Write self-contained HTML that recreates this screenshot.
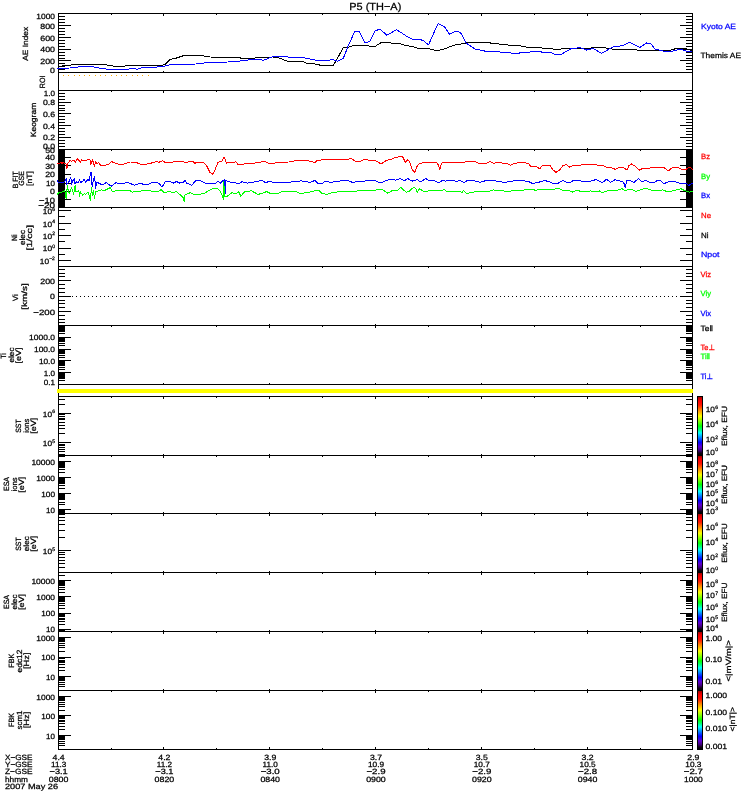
<!DOCTYPE html>
<html><head><meta charset="utf-8"><title>P5 (TH-A)</title>
<style>html,body{margin:0;padding:0;background:#fff;overflow:hidden}svg{display:block}text{font-family:"Liberation Sans",sans-serif}</style>
</head><body>
<svg width="750" height="800" viewBox="0 0 750 800" shape-rendering="crispEdges">
<rect width="750" height="800" fill="#fff"/>
<rect x="63" y="75" width="1" height="1" fill="#ffaa00"/>
<rect x="68" y="75" width="1" height="1" fill="#ffaa00"/>
<rect x="74" y="75" width="1" height="1" fill="#ffaa00"/>
<rect x="79" y="75" width="1" height="1" fill="#ffaa00"/>
<rect x="84" y="75" width="1" height="1" fill="#ffaa00"/>
<rect x="89" y="75" width="1" height="1" fill="#ffaa00"/>
<rect x="95" y="75" width="1" height="1" fill="#ffaa00"/>
<rect x="100" y="75" width="1" height="1" fill="#ffaa00"/>
<rect x="105" y="75" width="1" height="1" fill="#ffaa00"/>
<rect x="111" y="75" width="1" height="1" fill="#ffaa00"/>
<rect x="116" y="75" width="1" height="1" fill="#ffaa00"/>
<rect x="121" y="75" width="1" height="1" fill="#ffaa00"/>
<rect x="126" y="75" width="1" height="1" fill="#ffaa00"/>
<rect x="132" y="75" width="1" height="1" fill="#ffaa00"/>
<rect x="137" y="75" width="1" height="1" fill="#ffaa00"/>
<rect x="142" y="75" width="1" height="1" fill="#ffaa00"/>
<rect x="148" y="75" width="1" height="1" fill="#ffaa00"/>
<rect x="72" y="296" width="1" height="1" fill="#000"/>
<rect x="76" y="296" width="1" height="1" fill="#000"/>
<rect x="80" y="296" width="1" height="1" fill="#000"/>
<rect x="84" y="296" width="1" height="1" fill="#000"/>
<rect x="88" y="296" width="1" height="1" fill="#000"/>
<rect x="92" y="296" width="1" height="1" fill="#000"/>
<rect x="96" y="296" width="1" height="1" fill="#000"/>
<rect x="100" y="296" width="1" height="1" fill="#000"/>
<rect x="104" y="296" width="1" height="1" fill="#000"/>
<rect x="108" y="296" width="1" height="1" fill="#000"/>
<rect x="112" y="296" width="1" height="1" fill="#000"/>
<rect x="116" y="296" width="1" height="1" fill="#000"/>
<rect x="120" y="296" width="1" height="1" fill="#000"/>
<rect x="124" y="296" width="1" height="1" fill="#000"/>
<rect x="128" y="296" width="1" height="1" fill="#000"/>
<rect x="132" y="296" width="1" height="1" fill="#000"/>
<rect x="136" y="296" width="1" height="1" fill="#000"/>
<rect x="140" y="296" width="1" height="1" fill="#000"/>
<rect x="144" y="296" width="1" height="1" fill="#000"/>
<rect x="148" y="296" width="1" height="1" fill="#000"/>
<rect x="152" y="296" width="1" height="1" fill="#000"/>
<rect x="156" y="296" width="1" height="1" fill="#000"/>
<rect x="160" y="296" width="1" height="1" fill="#000"/>
<rect x="164" y="296" width="1" height="1" fill="#000"/>
<rect x="168" y="296" width="1" height="1" fill="#000"/>
<rect x="172" y="296" width="1" height="1" fill="#000"/>
<rect x="176" y="296" width="1" height="1" fill="#000"/>
<rect x="180" y="296" width="1" height="1" fill="#000"/>
<rect x="184" y="296" width="1" height="1" fill="#000"/>
<rect x="188" y="296" width="1" height="1" fill="#000"/>
<rect x="192" y="296" width="1" height="1" fill="#000"/>
<rect x="196" y="296" width="1" height="1" fill="#000"/>
<rect x="200" y="296" width="1" height="1" fill="#000"/>
<rect x="204" y="296" width="1" height="1" fill="#000"/>
<rect x="208" y="296" width="1" height="1" fill="#000"/>
<rect x="212" y="296" width="1" height="1" fill="#000"/>
<rect x="216" y="296" width="1" height="1" fill="#000"/>
<rect x="220" y="296" width="1" height="1" fill="#000"/>
<rect x="224" y="296" width="1" height="1" fill="#000"/>
<rect x="228" y="296" width="1" height="1" fill="#000"/>
<rect x="232" y="296" width="1" height="1" fill="#000"/>
<rect x="236" y="296" width="1" height="1" fill="#000"/>
<rect x="240" y="296" width="1" height="1" fill="#000"/>
<rect x="244" y="296" width="1" height="1" fill="#000"/>
<rect x="248" y="296" width="1" height="1" fill="#000"/>
<rect x="252" y="296" width="1" height="1" fill="#000"/>
<rect x="256" y="296" width="1" height="1" fill="#000"/>
<rect x="260" y="296" width="1" height="1" fill="#000"/>
<rect x="264" y="296" width="1" height="1" fill="#000"/>
<rect x="268" y="296" width="1" height="1" fill="#000"/>
<rect x="272" y="296" width="1" height="1" fill="#000"/>
<rect x="276" y="296" width="1" height="1" fill="#000"/>
<rect x="280" y="296" width="1" height="1" fill="#000"/>
<rect x="284" y="296" width="1" height="1" fill="#000"/>
<rect x="288" y="296" width="1" height="1" fill="#000"/>
<rect x="292" y="296" width="1" height="1" fill="#000"/>
<rect x="296" y="296" width="1" height="1" fill="#000"/>
<rect x="300" y="296" width="1" height="1" fill="#000"/>
<rect x="304" y="296" width="1" height="1" fill="#000"/>
<rect x="308" y="296" width="1" height="1" fill="#000"/>
<rect x="312" y="296" width="1" height="1" fill="#000"/>
<rect x="316" y="296" width="1" height="1" fill="#000"/>
<rect x="320" y="296" width="1" height="1" fill="#000"/>
<rect x="324" y="296" width="1" height="1" fill="#000"/>
<rect x="328" y="296" width="1" height="1" fill="#000"/>
<rect x="332" y="296" width="1" height="1" fill="#000"/>
<rect x="336" y="296" width="1" height="1" fill="#000"/>
<rect x="340" y="296" width="1" height="1" fill="#000"/>
<rect x="344" y="296" width="1" height="1" fill="#000"/>
<rect x="348" y="296" width="1" height="1" fill="#000"/>
<rect x="352" y="296" width="1" height="1" fill="#000"/>
<rect x="356" y="296" width="1" height="1" fill="#000"/>
<rect x="360" y="296" width="1" height="1" fill="#000"/>
<rect x="364" y="296" width="1" height="1" fill="#000"/>
<rect x="368" y="296" width="1" height="1" fill="#000"/>
<rect x="372" y="296" width="1" height="1" fill="#000"/>
<rect x="376" y="296" width="1" height="1" fill="#000"/>
<rect x="380" y="296" width="1" height="1" fill="#000"/>
<rect x="384" y="296" width="1" height="1" fill="#000"/>
<rect x="388" y="296" width="1" height="1" fill="#000"/>
<rect x="392" y="296" width="1" height="1" fill="#000"/>
<rect x="396" y="296" width="1" height="1" fill="#000"/>
<rect x="400" y="296" width="1" height="1" fill="#000"/>
<rect x="404" y="296" width="1" height="1" fill="#000"/>
<rect x="408" y="296" width="1" height="1" fill="#000"/>
<rect x="412" y="296" width="1" height="1" fill="#000"/>
<rect x="416" y="296" width="1" height="1" fill="#000"/>
<rect x="420" y="296" width="1" height="1" fill="#000"/>
<rect x="424" y="296" width="1" height="1" fill="#000"/>
<rect x="428" y="296" width="1" height="1" fill="#000"/>
<rect x="432" y="296" width="1" height="1" fill="#000"/>
<rect x="436" y="296" width="1" height="1" fill="#000"/>
<rect x="440" y="296" width="1" height="1" fill="#000"/>
<rect x="444" y="296" width="1" height="1" fill="#000"/>
<rect x="448" y="296" width="1" height="1" fill="#000"/>
<rect x="452" y="296" width="1" height="1" fill="#000"/>
<rect x="456" y="296" width="1" height="1" fill="#000"/>
<rect x="460" y="296" width="1" height="1" fill="#000"/>
<rect x="464" y="296" width="1" height="1" fill="#000"/>
<rect x="468" y="296" width="1" height="1" fill="#000"/>
<rect x="472" y="296" width="1" height="1" fill="#000"/>
<rect x="476" y="296" width="1" height="1" fill="#000"/>
<rect x="480" y="296" width="1" height="1" fill="#000"/>
<rect x="484" y="296" width="1" height="1" fill="#000"/>
<rect x="488" y="296" width="1" height="1" fill="#000"/>
<rect x="492" y="296" width="1" height="1" fill="#000"/>
<rect x="496" y="296" width="1" height="1" fill="#000"/>
<rect x="500" y="296" width="1" height="1" fill="#000"/>
<rect x="504" y="296" width="1" height="1" fill="#000"/>
<rect x="508" y="296" width="1" height="1" fill="#000"/>
<rect x="512" y="296" width="1" height="1" fill="#000"/>
<rect x="516" y="296" width="1" height="1" fill="#000"/>
<rect x="520" y="296" width="1" height="1" fill="#000"/>
<rect x="524" y="296" width="1" height="1" fill="#000"/>
<rect x="528" y="296" width="1" height="1" fill="#000"/>
<rect x="532" y="296" width="1" height="1" fill="#000"/>
<rect x="536" y="296" width="1" height="1" fill="#000"/>
<rect x="540" y="296" width="1" height="1" fill="#000"/>
<rect x="544" y="296" width="1" height="1" fill="#000"/>
<rect x="548" y="296" width="1" height="1" fill="#000"/>
<rect x="552" y="296" width="1" height="1" fill="#000"/>
<rect x="556" y="296" width="1" height="1" fill="#000"/>
<rect x="560" y="296" width="1" height="1" fill="#000"/>
<rect x="564" y="296" width="1" height="1" fill="#000"/>
<rect x="568" y="296" width="1" height="1" fill="#000"/>
<rect x="572" y="296" width="1" height="1" fill="#000"/>
<rect x="576" y="296" width="1" height="1" fill="#000"/>
<rect x="580" y="296" width="1" height="1" fill="#000"/>
<rect x="584" y="296" width="1" height="1" fill="#000"/>
<rect x="588" y="296" width="1" height="1" fill="#000"/>
<rect x="592" y="296" width="1" height="1" fill="#000"/>
<rect x="596" y="296" width="1" height="1" fill="#000"/>
<rect x="600" y="296" width="1" height="1" fill="#000"/>
<rect x="604" y="296" width="1" height="1" fill="#000"/>
<rect x="608" y="296" width="1" height="1" fill="#000"/>
<rect x="612" y="296" width="1" height="1" fill="#000"/>
<rect x="616" y="296" width="1" height="1" fill="#000"/>
<rect x="620" y="296" width="1" height="1" fill="#000"/>
<rect x="624" y="296" width="1" height="1" fill="#000"/>
<rect x="628" y="296" width="1" height="1" fill="#000"/>
<rect x="632" y="296" width="1" height="1" fill="#000"/>
<rect x="636" y="296" width="1" height="1" fill="#000"/>
<rect x="640" y="296" width="1" height="1" fill="#000"/>
<rect x="644" y="296" width="1" height="1" fill="#000"/>
<rect x="648" y="296" width="1" height="1" fill="#000"/>
<rect x="652" y="296" width="1" height="1" fill="#000"/>
<rect x="656" y="296" width="1" height="1" fill="#000"/>
<rect x="660" y="296" width="1" height="1" fill="#000"/>
<rect x="664" y="296" width="1" height="1" fill="#000"/>
<rect x="668" y="296" width="1" height="1" fill="#000"/>
<rect x="672" y="296" width="1" height="1" fill="#000"/>
<rect x="676" y="296" width="1" height="1" fill="#000"/>
<rect x="680" y="296" width="1" height="1" fill="#000"/>
<rect x="684" y="296" width="1" height="1" fill="#000"/>
<rect x="688" y="296" width="1" height="1" fill="#000"/>
<g fill="#000">
<rect x="58" y="13" width="635" height="1" fill="#000"/>
<rect x="58" y="72" width="635" height="1" fill="#000"/>
<rect x="58" y="90" width="635" height="1" fill="#000"/>
<rect x="58" y="149" width="635" height="1" fill="#000"/>
<rect x="58" y="207" width="635" height="1" fill="#000"/>
<rect x="58" y="266" width="635" height="1" fill="#000"/>
<rect x="58" y="325" width="635" height="1" fill="#000"/>
<rect x="58" y="384" width="635" height="1" fill="#000"/>
<rect x="58" y="396" width="635" height="1" fill="#000"/>
<rect x="58" y="455" width="635" height="1" fill="#000"/>
<rect x="58" y="513" width="635" height="1" fill="#000"/>
<rect x="58" y="572" width="635" height="1" fill="#000"/>
<rect x="58" y="631" width="635" height="1" fill="#000"/>
<rect x="58" y="690" width="635" height="1" fill="#000"/>
<rect x="58" y="749" width="635" height="1" fill="#000"/>
<rect x="58" y="13" width="1" height="737" fill="#000"/>
<rect x="692" y="13" width="1" height="737" fill="#000"/>
<rect x="58" y="14" width="1" height="2"/>
<rect x="58" y="71" width="1" height="1"/>
<rect x="58" y="91" width="1" height="2"/>
<rect x="58" y="148" width="1" height="1"/>
<rect x="58" y="150" width="1" height="2"/>
<rect x="58" y="206" width="1" height="1"/>
<rect x="58" y="208" width="1" height="2"/>
<rect x="58" y="265" width="1" height="1"/>
<rect x="58" y="267" width="1" height="2"/>
<rect x="58" y="324" width="1" height="1"/>
<rect x="58" y="326" width="1" height="2"/>
<rect x="58" y="383" width="1" height="1"/>
<rect x="58" y="397" width="1" height="2"/>
<rect x="58" y="454" width="1" height="1"/>
<rect x="58" y="456" width="1" height="2"/>
<rect x="58" y="512" width="1" height="1"/>
<rect x="58" y="514" width="1" height="2"/>
<rect x="58" y="571" width="1" height="1"/>
<rect x="58" y="573" width="1" height="2"/>
<rect x="58" y="630" width="1" height="1"/>
<rect x="58" y="632" width="1" height="2"/>
<rect x="58" y="689" width="1" height="1"/>
<rect x="58" y="691" width="1" height="2"/>
<rect x="58" y="747" width="1" height="2"/>
<rect x="111" y="14" width="1" height="1"/>
<rect x="111" y="91" width="1" height="1"/>
<rect x="111" y="150" width="1" height="1"/>
<rect x="111" y="208" width="1" height="1"/>
<rect x="111" y="267" width="1" height="1"/>
<rect x="111" y="326" width="1" height="1"/>
<rect x="111" y="397" width="1" height="1"/>
<rect x="111" y="456" width="1" height="1"/>
<rect x="111" y="514" width="1" height="1"/>
<rect x="111" y="573" width="1" height="1"/>
<rect x="111" y="632" width="1" height="1"/>
<rect x="111" y="691" width="1" height="1"/>
<rect x="111" y="748" width="1" height="1"/>
<rect x="163" y="14" width="1" height="2"/>
<rect x="163" y="71" width="1" height="1"/>
<rect x="163" y="91" width="1" height="2"/>
<rect x="163" y="148" width="1" height="1"/>
<rect x="163" y="150" width="1" height="2"/>
<rect x="163" y="206" width="1" height="1"/>
<rect x="163" y="208" width="1" height="2"/>
<rect x="163" y="265" width="1" height="1"/>
<rect x="163" y="267" width="1" height="2"/>
<rect x="163" y="324" width="1" height="1"/>
<rect x="163" y="326" width="1" height="2"/>
<rect x="163" y="383" width="1" height="1"/>
<rect x="163" y="397" width="1" height="2"/>
<rect x="163" y="454" width="1" height="1"/>
<rect x="163" y="456" width="1" height="2"/>
<rect x="163" y="512" width="1" height="1"/>
<rect x="163" y="514" width="1" height="2"/>
<rect x="163" y="571" width="1" height="1"/>
<rect x="163" y="573" width="1" height="2"/>
<rect x="163" y="630" width="1" height="1"/>
<rect x="163" y="632" width="1" height="2"/>
<rect x="163" y="689" width="1" height="1"/>
<rect x="163" y="691" width="1" height="2"/>
<rect x="163" y="747" width="1" height="2"/>
<rect x="216" y="14" width="1" height="1"/>
<rect x="216" y="91" width="1" height="1"/>
<rect x="216" y="150" width="1" height="1"/>
<rect x="216" y="208" width="1" height="1"/>
<rect x="216" y="267" width="1" height="1"/>
<rect x="216" y="326" width="1" height="1"/>
<rect x="216" y="397" width="1" height="1"/>
<rect x="216" y="456" width="1" height="1"/>
<rect x="216" y="514" width="1" height="1"/>
<rect x="216" y="573" width="1" height="1"/>
<rect x="216" y="632" width="1" height="1"/>
<rect x="216" y="691" width="1" height="1"/>
<rect x="216" y="748" width="1" height="1"/>
<rect x="269" y="14" width="1" height="2"/>
<rect x="269" y="71" width="1" height="1"/>
<rect x="269" y="91" width="1" height="2"/>
<rect x="269" y="148" width="1" height="1"/>
<rect x="269" y="150" width="1" height="2"/>
<rect x="269" y="206" width="1" height="1"/>
<rect x="269" y="208" width="1" height="2"/>
<rect x="269" y="265" width="1" height="1"/>
<rect x="269" y="267" width="1" height="2"/>
<rect x="269" y="324" width="1" height="1"/>
<rect x="269" y="326" width="1" height="2"/>
<rect x="269" y="383" width="1" height="1"/>
<rect x="269" y="397" width="1" height="2"/>
<rect x="269" y="454" width="1" height="1"/>
<rect x="269" y="456" width="1" height="2"/>
<rect x="269" y="512" width="1" height="1"/>
<rect x="269" y="514" width="1" height="2"/>
<rect x="269" y="571" width="1" height="1"/>
<rect x="269" y="573" width="1" height="2"/>
<rect x="269" y="630" width="1" height="1"/>
<rect x="269" y="632" width="1" height="2"/>
<rect x="269" y="689" width="1" height="1"/>
<rect x="269" y="691" width="1" height="2"/>
<rect x="269" y="747" width="1" height="2"/>
<rect x="322" y="14" width="1" height="1"/>
<rect x="322" y="91" width="1" height="1"/>
<rect x="322" y="150" width="1" height="1"/>
<rect x="322" y="208" width="1" height="1"/>
<rect x="322" y="267" width="1" height="1"/>
<rect x="322" y="326" width="1" height="1"/>
<rect x="322" y="397" width="1" height="1"/>
<rect x="322" y="456" width="1" height="1"/>
<rect x="322" y="514" width="1" height="1"/>
<rect x="322" y="573" width="1" height="1"/>
<rect x="322" y="632" width="1" height="1"/>
<rect x="322" y="691" width="1" height="1"/>
<rect x="322" y="748" width="1" height="1"/>
<rect x="375" y="14" width="1" height="2"/>
<rect x="375" y="71" width="1" height="1"/>
<rect x="375" y="91" width="1" height="2"/>
<rect x="375" y="148" width="1" height="1"/>
<rect x="375" y="150" width="1" height="2"/>
<rect x="375" y="206" width="1" height="1"/>
<rect x="375" y="208" width="1" height="2"/>
<rect x="375" y="265" width="1" height="1"/>
<rect x="375" y="267" width="1" height="2"/>
<rect x="375" y="324" width="1" height="1"/>
<rect x="375" y="326" width="1" height="2"/>
<rect x="375" y="383" width="1" height="1"/>
<rect x="375" y="397" width="1" height="2"/>
<rect x="375" y="454" width="1" height="1"/>
<rect x="375" y="456" width="1" height="2"/>
<rect x="375" y="512" width="1" height="1"/>
<rect x="375" y="514" width="1" height="2"/>
<rect x="375" y="571" width="1" height="1"/>
<rect x="375" y="573" width="1" height="2"/>
<rect x="375" y="630" width="1" height="1"/>
<rect x="375" y="632" width="1" height="2"/>
<rect x="375" y="689" width="1" height="1"/>
<rect x="375" y="691" width="1" height="2"/>
<rect x="375" y="747" width="1" height="2"/>
<rect x="428" y="14" width="1" height="1"/>
<rect x="428" y="91" width="1" height="1"/>
<rect x="428" y="150" width="1" height="1"/>
<rect x="428" y="208" width="1" height="1"/>
<rect x="428" y="267" width="1" height="1"/>
<rect x="428" y="326" width="1" height="1"/>
<rect x="428" y="397" width="1" height="1"/>
<rect x="428" y="456" width="1" height="1"/>
<rect x="428" y="514" width="1" height="1"/>
<rect x="428" y="573" width="1" height="1"/>
<rect x="428" y="632" width="1" height="1"/>
<rect x="428" y="691" width="1" height="1"/>
<rect x="428" y="748" width="1" height="1"/>
<rect x="481" y="14" width="1" height="2"/>
<rect x="481" y="71" width="1" height="1"/>
<rect x="481" y="91" width="1" height="2"/>
<rect x="481" y="148" width="1" height="1"/>
<rect x="481" y="150" width="1" height="2"/>
<rect x="481" y="206" width="1" height="1"/>
<rect x="481" y="208" width="1" height="2"/>
<rect x="481" y="265" width="1" height="1"/>
<rect x="481" y="267" width="1" height="2"/>
<rect x="481" y="324" width="1" height="1"/>
<rect x="481" y="326" width="1" height="2"/>
<rect x="481" y="383" width="1" height="1"/>
<rect x="481" y="397" width="1" height="2"/>
<rect x="481" y="454" width="1" height="1"/>
<rect x="481" y="456" width="1" height="2"/>
<rect x="481" y="512" width="1" height="1"/>
<rect x="481" y="514" width="1" height="2"/>
<rect x="481" y="571" width="1" height="1"/>
<rect x="481" y="573" width="1" height="2"/>
<rect x="481" y="630" width="1" height="1"/>
<rect x="481" y="632" width="1" height="2"/>
<rect x="481" y="689" width="1" height="1"/>
<rect x="481" y="691" width="1" height="2"/>
<rect x="481" y="747" width="1" height="2"/>
<rect x="534" y="14" width="1" height="1"/>
<rect x="534" y="91" width="1" height="1"/>
<rect x="534" y="150" width="1" height="1"/>
<rect x="534" y="208" width="1" height="1"/>
<rect x="534" y="267" width="1" height="1"/>
<rect x="534" y="326" width="1" height="1"/>
<rect x="534" y="397" width="1" height="1"/>
<rect x="534" y="456" width="1" height="1"/>
<rect x="534" y="514" width="1" height="1"/>
<rect x="534" y="573" width="1" height="1"/>
<rect x="534" y="632" width="1" height="1"/>
<rect x="534" y="691" width="1" height="1"/>
<rect x="534" y="748" width="1" height="1"/>
<rect x="587" y="14" width="1" height="2"/>
<rect x="587" y="71" width="1" height="1"/>
<rect x="587" y="91" width="1" height="2"/>
<rect x="587" y="148" width="1" height="1"/>
<rect x="587" y="150" width="1" height="2"/>
<rect x="587" y="206" width="1" height="1"/>
<rect x="587" y="208" width="1" height="2"/>
<rect x="587" y="265" width="1" height="1"/>
<rect x="587" y="267" width="1" height="2"/>
<rect x="587" y="324" width="1" height="1"/>
<rect x="587" y="326" width="1" height="2"/>
<rect x="587" y="383" width="1" height="1"/>
<rect x="587" y="397" width="1" height="2"/>
<rect x="587" y="454" width="1" height="1"/>
<rect x="587" y="456" width="1" height="2"/>
<rect x="587" y="512" width="1" height="1"/>
<rect x="587" y="514" width="1" height="2"/>
<rect x="587" y="571" width="1" height="1"/>
<rect x="587" y="573" width="1" height="2"/>
<rect x="587" y="630" width="1" height="1"/>
<rect x="587" y="632" width="1" height="2"/>
<rect x="587" y="689" width="1" height="1"/>
<rect x="587" y="691" width="1" height="2"/>
<rect x="587" y="747" width="1" height="2"/>
<rect x="640" y="14" width="1" height="1"/>
<rect x="640" y="91" width="1" height="1"/>
<rect x="640" y="150" width="1" height="1"/>
<rect x="640" y="208" width="1" height="1"/>
<rect x="640" y="267" width="1" height="1"/>
<rect x="640" y="326" width="1" height="1"/>
<rect x="640" y="397" width="1" height="1"/>
<rect x="640" y="456" width="1" height="1"/>
<rect x="640" y="514" width="1" height="1"/>
<rect x="640" y="573" width="1" height="1"/>
<rect x="640" y="632" width="1" height="1"/>
<rect x="640" y="691" width="1" height="1"/>
<rect x="640" y="748" width="1" height="1"/>
<rect x="692" y="14" width="1" height="2"/>
<rect x="692" y="71" width="1" height="1"/>
<rect x="692" y="91" width="1" height="2"/>
<rect x="692" y="148" width="1" height="1"/>
<rect x="692" y="150" width="1" height="2"/>
<rect x="692" y="206" width="1" height="1"/>
<rect x="692" y="208" width="1" height="2"/>
<rect x="692" y="265" width="1" height="1"/>
<rect x="692" y="267" width="1" height="2"/>
<rect x="692" y="324" width="1" height="1"/>
<rect x="692" y="326" width="1" height="2"/>
<rect x="692" y="383" width="1" height="1"/>
<rect x="692" y="397" width="1" height="2"/>
<rect x="692" y="454" width="1" height="1"/>
<rect x="692" y="456" width="1" height="2"/>
<rect x="692" y="512" width="1" height="1"/>
<rect x="692" y="514" width="1" height="2"/>
<rect x="692" y="571" width="1" height="1"/>
<rect x="692" y="573" width="1" height="2"/>
<rect x="692" y="630" width="1" height="1"/>
<rect x="692" y="632" width="1" height="2"/>
<rect x="692" y="689" width="1" height="1"/>
<rect x="692" y="691" width="1" height="2"/>
<rect x="692" y="747" width="1" height="2"/>
<rect x="58" y="13" width="13" height="1"/>
<rect x="680" y="13" width="13" height="1"/>
<rect x="58" y="25" width="13" height="1"/>
<rect x="680" y="25" width="13" height="1"/>
<rect x="58" y="37" width="13" height="1"/>
<rect x="680" y="37" width="13" height="1"/>
<rect x="58" y="49" width="13" height="1"/>
<rect x="680" y="49" width="13" height="1"/>
<rect x="58" y="60" width="13" height="1"/>
<rect x="680" y="60" width="13" height="1"/>
<rect x="58" y="72" width="13" height="1"/>
<rect x="680" y="72" width="13" height="1"/>
<rect x="58" y="16" width="7" height="1"/>
<rect x="686" y="16" width="7" height="1"/>
<rect x="58" y="19" width="7" height="1"/>
<rect x="686" y="19" width="7" height="1"/>
<rect x="58" y="22" width="7" height="1"/>
<rect x="686" y="22" width="7" height="1"/>
<rect x="58" y="28" width="7" height="1"/>
<rect x="686" y="28" width="7" height="1"/>
<rect x="58" y="31" width="7" height="1"/>
<rect x="686" y="31" width="7" height="1"/>
<rect x="58" y="34" width="7" height="1"/>
<rect x="686" y="34" width="7" height="1"/>
<rect x="58" y="40" width="7" height="1"/>
<rect x="686" y="40" width="7" height="1"/>
<rect x="58" y="43" width="7" height="1"/>
<rect x="686" y="43" width="7" height="1"/>
<rect x="58" y="46" width="7" height="1"/>
<rect x="686" y="46" width="7" height="1"/>
<rect x="58" y="52" width="7" height="1"/>
<rect x="686" y="52" width="7" height="1"/>
<rect x="58" y="55" width="7" height="1"/>
<rect x="686" y="55" width="7" height="1"/>
<rect x="58" y="58" width="7" height="1"/>
<rect x="686" y="58" width="7" height="1"/>
<rect x="58" y="63" width="7" height="1"/>
<rect x="686" y="63" width="7" height="1"/>
<rect x="58" y="66" width="7" height="1"/>
<rect x="686" y="66" width="7" height="1"/>
<rect x="58" y="69" width="7" height="1"/>
<rect x="686" y="69" width="7" height="1"/>
<rect x="58" y="90" width="13" height="1"/>
<rect x="680" y="90" width="13" height="1"/>
<rect x="58" y="102" width="13" height="1"/>
<rect x="680" y="102" width="13" height="1"/>
<rect x="58" y="113" width="13" height="1"/>
<rect x="680" y="113" width="13" height="1"/>
<rect x="58" y="125" width="13" height="1"/>
<rect x="680" y="125" width="13" height="1"/>
<rect x="58" y="137" width="13" height="1"/>
<rect x="680" y="137" width="13" height="1"/>
<rect x="58" y="149" width="13" height="1"/>
<rect x="680" y="149" width="13" height="1"/>
<rect x="58" y="93" width="7" height="1"/>
<rect x="686" y="93" width="7" height="1"/>
<rect x="58" y="96" width="7" height="1"/>
<rect x="686" y="96" width="7" height="1"/>
<rect x="58" y="99" width="7" height="1"/>
<rect x="686" y="99" width="7" height="1"/>
<rect x="58" y="105" width="7" height="1"/>
<rect x="686" y="105" width="7" height="1"/>
<rect x="58" y="108" width="7" height="1"/>
<rect x="686" y="108" width="7" height="1"/>
<rect x="58" y="110" width="7" height="1"/>
<rect x="686" y="110" width="7" height="1"/>
<rect x="58" y="116" width="7" height="1"/>
<rect x="686" y="116" width="7" height="1"/>
<rect x="58" y="119" width="7" height="1"/>
<rect x="686" y="119" width="7" height="1"/>
<rect x="58" y="122" width="7" height="1"/>
<rect x="686" y="122" width="7" height="1"/>
<rect x="58" y="128" width="7" height="1"/>
<rect x="686" y="128" width="7" height="1"/>
<rect x="58" y="131" width="7" height="1"/>
<rect x="686" y="131" width="7" height="1"/>
<rect x="58" y="134" width="7" height="1"/>
<rect x="686" y="134" width="7" height="1"/>
<rect x="58" y="140" width="7" height="1"/>
<rect x="686" y="140" width="7" height="1"/>
<rect x="58" y="143" width="7" height="1"/>
<rect x="686" y="143" width="7" height="1"/>
<rect x="58" y="146" width="7" height="1"/>
<rect x="686" y="146" width="7" height="1"/>
<rect x="58" y="149" width="7" height="59"/>
<rect x="686" y="149" width="7" height="59"/>
<rect x="58" y="157" width="13" height="1"/>
<rect x="680" y="157" width="13" height="1"/>
<rect x="58" y="165" width="13" height="1"/>
<rect x="680" y="165" width="13" height="1"/>
<rect x="58" y="174" width="13" height="1"/>
<rect x="680" y="174" width="13" height="1"/>
<rect x="58" y="183" width="13" height="1"/>
<rect x="680" y="183" width="13" height="1"/>
<rect x="58" y="191" width="13" height="1"/>
<rect x="680" y="191" width="13" height="1"/>
<rect x="58" y="199" width="13" height="1"/>
<rect x="680" y="199" width="13" height="1"/>
<rect x="58" y="210" width="13" height="1"/>
<rect x="680" y="210" width="13" height="1"/>
<rect x="58" y="223" width="13" height="1"/>
<rect x="680" y="223" width="13" height="1"/>
<rect x="58" y="235" width="13" height="1"/>
<rect x="680" y="235" width="13" height="1"/>
<rect x="58" y="248" width="13" height="1"/>
<rect x="680" y="248" width="13" height="1"/>
<rect x="58" y="260" width="13" height="1"/>
<rect x="680" y="260" width="13" height="1"/>
<rect x="58" y="216" width="7" height="1"/>
<rect x="686" y="216" width="7" height="1"/>
<rect x="58" y="229" width="7" height="1"/>
<rect x="686" y="229" width="7" height="1"/>
<rect x="58" y="241" width="7" height="1"/>
<rect x="686" y="241" width="7" height="1"/>
<rect x="58" y="254" width="7" height="1"/>
<rect x="686" y="254" width="7" height="1"/>
<rect x="58" y="280" width="13" height="1"/>
<rect x="680" y="280" width="13" height="1"/>
<rect x="58" y="296" width="13" height="1"/>
<rect x="680" y="296" width="13" height="1"/>
<rect x="58" y="311" width="13" height="1"/>
<rect x="680" y="311" width="13" height="1"/>
<rect x="58" y="269" width="7" height="1"/>
<rect x="686" y="269" width="7" height="1"/>
<rect x="58" y="273" width="7" height="1"/>
<rect x="686" y="273" width="7" height="1"/>
<rect x="58" y="276" width="7" height="1"/>
<rect x="686" y="276" width="7" height="1"/>
<rect x="58" y="284" width="7" height="1"/>
<rect x="686" y="284" width="7" height="1"/>
<rect x="58" y="288" width="7" height="1"/>
<rect x="686" y="288" width="7" height="1"/>
<rect x="58" y="292" width="7" height="1"/>
<rect x="686" y="292" width="7" height="1"/>
<rect x="58" y="300" width="7" height="1"/>
<rect x="686" y="300" width="7" height="1"/>
<rect x="58" y="303" width="7" height="1"/>
<rect x="686" y="303" width="7" height="1"/>
<rect x="58" y="307" width="7" height="1"/>
<rect x="686" y="307" width="7" height="1"/>
<rect x="58" y="315" width="7" height="1"/>
<rect x="686" y="315" width="7" height="1"/>
<rect x="58" y="319" width="7" height="1"/>
<rect x="686" y="319" width="7" height="1"/>
<rect x="58" y="322" width="7" height="1"/>
<rect x="686" y="322" width="7" height="1"/>
<rect x="58" y="384" width="7" height="1"/>
<rect x="686" y="384" width="7" height="1"/>
<rect x="58" y="380" width="7" height="1"/>
<rect x="686" y="380" width="7" height="1"/>
<rect x="58" y="378" width="7" height="1"/>
<rect x="686" y="378" width="7" height="1"/>
<rect x="58" y="377" width="7" height="1"/>
<rect x="686" y="377" width="7" height="1"/>
<rect x="58" y="376" width="7" height="1"/>
<rect x="686" y="376" width="7" height="1"/>
<rect x="58" y="375" width="7" height="1"/>
<rect x="686" y="375" width="7" height="1"/>
<rect x="58" y="374" width="7" height="1"/>
<rect x="686" y="374" width="7" height="1"/>
<rect x="58" y="373" width="7" height="1"/>
<rect x="686" y="373" width="7" height="1"/>
<rect x="58" y="373" width="7" height="1"/>
<rect x="686" y="373" width="7" height="1"/>
<rect x="58" y="369" width="7" height="1"/>
<rect x="686" y="369" width="7" height="1"/>
<rect x="58" y="367" width="7" height="1"/>
<rect x="686" y="367" width="7" height="1"/>
<rect x="58" y="365" width="7" height="1"/>
<rect x="686" y="365" width="7" height="1"/>
<rect x="58" y="364" width="7" height="1"/>
<rect x="686" y="364" width="7" height="1"/>
<rect x="58" y="363" width="7" height="1"/>
<rect x="686" y="363" width="7" height="1"/>
<rect x="58" y="362" width="7" height="1"/>
<rect x="686" y="362" width="7" height="1"/>
<rect x="58" y="361" width="7" height="1"/>
<rect x="686" y="361" width="7" height="1"/>
<rect x="58" y="361" width="7" height="1"/>
<rect x="686" y="361" width="7" height="1"/>
<rect x="58" y="357" width="7" height="1"/>
<rect x="686" y="357" width="7" height="1"/>
<rect x="58" y="355" width="7" height="1"/>
<rect x="686" y="355" width="7" height="1"/>
<rect x="58" y="353" width="7" height="1"/>
<rect x="686" y="353" width="7" height="1"/>
<rect x="58" y="352" width="7" height="1"/>
<rect x="686" y="352" width="7" height="1"/>
<rect x="58" y="351" width="7" height="1"/>
<rect x="686" y="351" width="7" height="1"/>
<rect x="58" y="350" width="7" height="1"/>
<rect x="686" y="350" width="7" height="1"/>
<rect x="58" y="350" width="7" height="1"/>
<rect x="686" y="350" width="7" height="1"/>
<rect x="58" y="349" width="7" height="1"/>
<rect x="686" y="349" width="7" height="1"/>
<rect x="58" y="345" width="7" height="1"/>
<rect x="686" y="345" width="7" height="1"/>
<rect x="58" y="343" width="7" height="1"/>
<rect x="686" y="343" width="7" height="1"/>
<rect x="58" y="341" width="7" height="1"/>
<rect x="686" y="341" width="7" height="1"/>
<rect x="58" y="340" width="7" height="1"/>
<rect x="686" y="340" width="7" height="1"/>
<rect x="58" y="339" width="7" height="1"/>
<rect x="686" y="339" width="7" height="1"/>
<rect x="58" y="339" width="7" height="1"/>
<rect x="686" y="339" width="7" height="1"/>
<rect x="58" y="338" width="7" height="1"/>
<rect x="686" y="338" width="7" height="1"/>
<rect x="58" y="337" width="7" height="1"/>
<rect x="686" y="337" width="7" height="1"/>
<rect x="58" y="333" width="7" height="1"/>
<rect x="686" y="333" width="7" height="1"/>
<rect x="58" y="331" width="7" height="1"/>
<rect x="686" y="331" width="7" height="1"/>
<rect x="58" y="330" width="7" height="1"/>
<rect x="686" y="330" width="7" height="1"/>
<rect x="58" y="329" width="7" height="1"/>
<rect x="686" y="329" width="7" height="1"/>
<rect x="58" y="328" width="7" height="1"/>
<rect x="686" y="328" width="7" height="1"/>
<rect x="58" y="327" width="7" height="1"/>
<rect x="686" y="327" width="7" height="1"/>
<rect x="58" y="326" width="7" height="1"/>
<rect x="686" y="326" width="7" height="1"/>
<rect x="58" y="326" width="7" height="1"/>
<rect x="686" y="326" width="7" height="1"/>
<rect x="58" y="384" width="13" height="1"/>
<rect x="680" y="384" width="13" height="1"/>
<rect x="58" y="372" width="13" height="1"/>
<rect x="680" y="372" width="13" height="1"/>
<rect x="58" y="360" width="13" height="1"/>
<rect x="680" y="360" width="13" height="1"/>
<rect x="58" y="349" width="13" height="1"/>
<rect x="680" y="349" width="13" height="1"/>
<rect x="58" y="337" width="13" height="1"/>
<rect x="680" y="337" width="13" height="1"/>
<rect x="58" y="325" width="13" height="1"/>
<rect x="680" y="325" width="13" height="1"/>
<rect x="58" y="454" width="7" height="1"/>
<rect x="686" y="454" width="7" height="1"/>
<rect x="58" y="451" width="7" height="1"/>
<rect x="686" y="451" width="7" height="1"/>
<rect x="58" y="449" width="7" height="1"/>
<rect x="686" y="449" width="7" height="1"/>
<rect x="58" y="447" width="7" height="1"/>
<rect x="686" y="447" width="7" height="1"/>
<rect x="58" y="445" width="7" height="1"/>
<rect x="686" y="445" width="7" height="1"/>
<rect x="58" y="444" width="7" height="1"/>
<rect x="686" y="444" width="7" height="1"/>
<rect x="58" y="433" width="7" height="1"/>
<rect x="686" y="433" width="7" height="1"/>
<rect x="58" y="428" width="7" height="1"/>
<rect x="686" y="428" width="7" height="1"/>
<rect x="58" y="425" width="7" height="1"/>
<rect x="686" y="425" width="7" height="1"/>
<rect x="58" y="422" width="7" height="1"/>
<rect x="686" y="422" width="7" height="1"/>
<rect x="58" y="419" width="7" height="1"/>
<rect x="686" y="419" width="7" height="1"/>
<rect x="58" y="418" width="7" height="1"/>
<rect x="686" y="418" width="7" height="1"/>
<rect x="58" y="416" width="7" height="1"/>
<rect x="686" y="416" width="7" height="1"/>
<rect x="58" y="414" width="7" height="1"/>
<rect x="686" y="414" width="7" height="1"/>
<rect x="58" y="404" width="7" height="1"/>
<rect x="686" y="404" width="7" height="1"/>
<rect x="58" y="399" width="7" height="1"/>
<rect x="686" y="399" width="7" height="1"/>
<rect x="58" y="442" width="13" height="1"/>
<rect x="680" y="442" width="13" height="1"/>
<rect x="58" y="413" width="13" height="1"/>
<rect x="680" y="413" width="13" height="1"/>
<rect x="58" y="513" width="7" height="1"/>
<rect x="686" y="513" width="7" height="1"/>
<rect x="58" y="512" width="7" height="1"/>
<rect x="686" y="512" width="7" height="1"/>
<rect x="58" y="511" width="7" height="1"/>
<rect x="686" y="511" width="7" height="1"/>
<rect x="58" y="510" width="7" height="1"/>
<rect x="686" y="510" width="7" height="1"/>
<rect x="58" y="504" width="7" height="1"/>
<rect x="686" y="504" width="7" height="1"/>
<rect x="58" y="502" width="7" height="1"/>
<rect x="686" y="502" width="7" height="1"/>
<rect x="58" y="499" width="7" height="1"/>
<rect x="686" y="499" width="7" height="1"/>
<rect x="58" y="498" width="7" height="1"/>
<rect x="686" y="498" width="7" height="1"/>
<rect x="58" y="497" width="7" height="1"/>
<rect x="686" y="497" width="7" height="1"/>
<rect x="58" y="496" width="7" height="1"/>
<rect x="686" y="496" width="7" height="1"/>
<rect x="58" y="495" width="7" height="1"/>
<rect x="686" y="495" width="7" height="1"/>
<rect x="58" y="494" width="7" height="1"/>
<rect x="686" y="494" width="7" height="1"/>
<rect x="58" y="488" width="7" height="1"/>
<rect x="686" y="488" width="7" height="1"/>
<rect x="58" y="485" width="7" height="1"/>
<rect x="686" y="485" width="7" height="1"/>
<rect x="58" y="483" width="7" height="1"/>
<rect x="686" y="483" width="7" height="1"/>
<rect x="58" y="482" width="7" height="1"/>
<rect x="686" y="482" width="7" height="1"/>
<rect x="58" y="481" width="7" height="1"/>
<rect x="686" y="481" width="7" height="1"/>
<rect x="58" y="480" width="7" height="1"/>
<rect x="686" y="480" width="7" height="1"/>
<rect x="58" y="479" width="7" height="1"/>
<rect x="686" y="479" width="7" height="1"/>
<rect x="58" y="478" width="7" height="1"/>
<rect x="686" y="478" width="7" height="1"/>
<rect x="58" y="472" width="7" height="1"/>
<rect x="686" y="472" width="7" height="1"/>
<rect x="58" y="469" width="7" height="1"/>
<rect x="686" y="469" width="7" height="1"/>
<rect x="58" y="467" width="7" height="1"/>
<rect x="686" y="467" width="7" height="1"/>
<rect x="58" y="466" width="7" height="1"/>
<rect x="686" y="466" width="7" height="1"/>
<rect x="58" y="465" width="7" height="1"/>
<rect x="686" y="465" width="7" height="1"/>
<rect x="58" y="464" width="7" height="1"/>
<rect x="686" y="464" width="7" height="1"/>
<rect x="58" y="463" width="7" height="1"/>
<rect x="686" y="463" width="7" height="1"/>
<rect x="58" y="462" width="7" height="1"/>
<rect x="686" y="462" width="7" height="1"/>
<rect x="58" y="456" width="7" height="1"/>
<rect x="686" y="456" width="7" height="1"/>
<rect x="58" y="509" width="13" height="1"/>
<rect x="680" y="509" width="13" height="1"/>
<rect x="58" y="493" width="13" height="1"/>
<rect x="680" y="493" width="13" height="1"/>
<rect x="58" y="477" width="13" height="1"/>
<rect x="680" y="477" width="13" height="1"/>
<rect x="58" y="461" width="13" height="1"/>
<rect x="680" y="461" width="13" height="1"/>
<rect x="58" y="572" width="7" height="1"/>
<rect x="686" y="572" width="7" height="1"/>
<rect x="58" y="567" width="7" height="1"/>
<rect x="686" y="567" width="7" height="1"/>
<rect x="58" y="563" width="7" height="1"/>
<rect x="686" y="563" width="7" height="1"/>
<rect x="58" y="560" width="7" height="1"/>
<rect x="686" y="560" width="7" height="1"/>
<rect x="58" y="557" width="7" height="1"/>
<rect x="686" y="557" width="7" height="1"/>
<rect x="58" y="554" width="7" height="1"/>
<rect x="686" y="554" width="7" height="1"/>
<rect x="58" y="552" width="7" height="1"/>
<rect x="686" y="552" width="7" height="1"/>
<rect x="58" y="537" width="7" height="1"/>
<rect x="686" y="537" width="7" height="1"/>
<rect x="58" y="530" width="7" height="1"/>
<rect x="686" y="530" width="7" height="1"/>
<rect x="58" y="524" width="7" height="1"/>
<rect x="686" y="524" width="7" height="1"/>
<rect x="58" y="520" width="7" height="1"/>
<rect x="686" y="520" width="7" height="1"/>
<rect x="58" y="517" width="7" height="1"/>
<rect x="686" y="517" width="7" height="1"/>
<rect x="58" y="514" width="7" height="1"/>
<rect x="686" y="514" width="7" height="1"/>
<rect x="58" y="550" width="13" height="1"/>
<rect x="680" y="550" width="13" height="1"/>
<rect x="58" y="631" width="7" height="1"/>
<rect x="686" y="631" width="7" height="1"/>
<rect x="58" y="630" width="7" height="1"/>
<rect x="686" y="630" width="7" height="1"/>
<rect x="58" y="624" width="7" height="1"/>
<rect x="686" y="624" width="7" height="1"/>
<rect x="58" y="621" width="7" height="1"/>
<rect x="686" y="621" width="7" height="1"/>
<rect x="58" y="619" width="7" height="1"/>
<rect x="686" y="619" width="7" height="1"/>
<rect x="58" y="618" width="7" height="1"/>
<rect x="686" y="618" width="7" height="1"/>
<rect x="58" y="616" width="7" height="1"/>
<rect x="686" y="616" width="7" height="1"/>
<rect x="58" y="615" width="7" height="1"/>
<rect x="686" y="615" width="7" height="1"/>
<rect x="58" y="614" width="7" height="1"/>
<rect x="686" y="614" width="7" height="1"/>
<rect x="58" y="614" width="7" height="1"/>
<rect x="686" y="614" width="7" height="1"/>
<rect x="58" y="608" width="7" height="1"/>
<rect x="686" y="608" width="7" height="1"/>
<rect x="58" y="605" width="7" height="1"/>
<rect x="686" y="605" width="7" height="1"/>
<rect x="58" y="603" width="7" height="1"/>
<rect x="686" y="603" width="7" height="1"/>
<rect x="58" y="601" width="7" height="1"/>
<rect x="686" y="601" width="7" height="1"/>
<rect x="58" y="600" width="7" height="1"/>
<rect x="686" y="600" width="7" height="1"/>
<rect x="58" y="599" width="7" height="1"/>
<rect x="686" y="599" width="7" height="1"/>
<rect x="58" y="598" width="7" height="1"/>
<rect x="686" y="598" width="7" height="1"/>
<rect x="58" y="597" width="7" height="1"/>
<rect x="686" y="597" width="7" height="1"/>
<rect x="58" y="592" width="7" height="1"/>
<rect x="686" y="592" width="7" height="1"/>
<rect x="58" y="589" width="7" height="1"/>
<rect x="686" y="589" width="7" height="1"/>
<rect x="58" y="587" width="7" height="1"/>
<rect x="686" y="587" width="7" height="1"/>
<rect x="58" y="585" width="7" height="1"/>
<rect x="686" y="585" width="7" height="1"/>
<rect x="58" y="584" width="7" height="1"/>
<rect x="686" y="584" width="7" height="1"/>
<rect x="58" y="583" width="7" height="1"/>
<rect x="686" y="583" width="7" height="1"/>
<rect x="58" y="582" width="7" height="1"/>
<rect x="686" y="582" width="7" height="1"/>
<rect x="58" y="581" width="7" height="1"/>
<rect x="686" y="581" width="7" height="1"/>
<rect x="58" y="575" width="7" height="1"/>
<rect x="686" y="575" width="7" height="1"/>
<rect x="58" y="572" width="7" height="1"/>
<rect x="686" y="572" width="7" height="1"/>
<rect x="58" y="629" width="13" height="1"/>
<rect x="680" y="629" width="13" height="1"/>
<rect x="58" y="613" width="13" height="1"/>
<rect x="680" y="613" width="13" height="1"/>
<rect x="58" y="596" width="13" height="1"/>
<rect x="680" y="596" width="13" height="1"/>
<rect x="58" y="580" width="13" height="1"/>
<rect x="680" y="580" width="13" height="1"/>
<rect x="58" y="690" width="7" height="1"/>
<rect x="686" y="690" width="7" height="1"/>
<rect x="58" y="686" width="7" height="1"/>
<rect x="686" y="686" width="7" height="1"/>
<rect x="58" y="684" width="7" height="1"/>
<rect x="686" y="684" width="7" height="1"/>
<rect x="58" y="682" width="7" height="1"/>
<rect x="686" y="682" width="7" height="1"/>
<rect x="58" y="680" width="7" height="1"/>
<rect x="686" y="680" width="7" height="1"/>
<rect x="58" y="679" width="7" height="1"/>
<rect x="686" y="679" width="7" height="1"/>
<rect x="58" y="678" width="7" height="1"/>
<rect x="686" y="678" width="7" height="1"/>
<rect x="58" y="677" width="7" height="1"/>
<rect x="686" y="677" width="7" height="1"/>
<rect x="58" y="670" width="7" height="1"/>
<rect x="686" y="670" width="7" height="1"/>
<rect x="58" y="667" width="7" height="1"/>
<rect x="686" y="667" width="7" height="1"/>
<rect x="58" y="664" width="7" height="1"/>
<rect x="686" y="664" width="7" height="1"/>
<rect x="58" y="662" width="7" height="1"/>
<rect x="686" y="662" width="7" height="1"/>
<rect x="58" y="661" width="7" height="1"/>
<rect x="686" y="661" width="7" height="1"/>
<rect x="58" y="660" width="7" height="1"/>
<rect x="686" y="660" width="7" height="1"/>
<rect x="58" y="658" width="7" height="1"/>
<rect x="686" y="658" width="7" height="1"/>
<rect x="58" y="657" width="7" height="1"/>
<rect x="686" y="657" width="7" height="1"/>
<rect x="58" y="651" width="7" height="1"/>
<rect x="686" y="651" width="7" height="1"/>
<rect x="58" y="647" width="7" height="1"/>
<rect x="686" y="647" width="7" height="1"/>
<rect x="58" y="645" width="7" height="1"/>
<rect x="686" y="645" width="7" height="1"/>
<rect x="58" y="643" width="7" height="1"/>
<rect x="686" y="643" width="7" height="1"/>
<rect x="58" y="641" width="7" height="1"/>
<rect x="686" y="641" width="7" height="1"/>
<rect x="58" y="640" width="7" height="1"/>
<rect x="686" y="640" width="7" height="1"/>
<rect x="58" y="639" width="7" height="1"/>
<rect x="686" y="639" width="7" height="1"/>
<rect x="58" y="638" width="7" height="1"/>
<rect x="686" y="638" width="7" height="1"/>
<rect x="58" y="631" width="7" height="1"/>
<rect x="686" y="631" width="7" height="1"/>
<rect x="58" y="676" width="13" height="1"/>
<rect x="680" y="676" width="13" height="1"/>
<rect x="58" y="657" width="13" height="1"/>
<rect x="680" y="657" width="13" height="1"/>
<rect x="58" y="637" width="13" height="1"/>
<rect x="680" y="637" width="13" height="1"/>
<rect x="58" y="749" width="7" height="1"/>
<rect x="686" y="749" width="7" height="1"/>
<rect x="58" y="745" width="7" height="1"/>
<rect x="686" y="745" width="7" height="1"/>
<rect x="58" y="743" width="7" height="1"/>
<rect x="686" y="743" width="7" height="1"/>
<rect x="58" y="741" width="7" height="1"/>
<rect x="686" y="741" width="7" height="1"/>
<rect x="58" y="739" width="7" height="1"/>
<rect x="686" y="739" width="7" height="1"/>
<rect x="58" y="738" width="7" height="1"/>
<rect x="686" y="738" width="7" height="1"/>
<rect x="58" y="737" width="7" height="1"/>
<rect x="686" y="737" width="7" height="1"/>
<rect x="58" y="736" width="7" height="1"/>
<rect x="686" y="736" width="7" height="1"/>
<rect x="58" y="729" width="7" height="1"/>
<rect x="686" y="729" width="7" height="1"/>
<rect x="58" y="726" width="7" height="1"/>
<rect x="686" y="726" width="7" height="1"/>
<rect x="58" y="723" width="7" height="1"/>
<rect x="686" y="723" width="7" height="1"/>
<rect x="58" y="721" width="7" height="1"/>
<rect x="686" y="721" width="7" height="1"/>
<rect x="58" y="720" width="7" height="1"/>
<rect x="686" y="720" width="7" height="1"/>
<rect x="58" y="718" width="7" height="1"/>
<rect x="686" y="718" width="7" height="1"/>
<rect x="58" y="717" width="7" height="1"/>
<rect x="686" y="717" width="7" height="1"/>
<rect x="58" y="716" width="7" height="1"/>
<rect x="686" y="716" width="7" height="1"/>
<rect x="58" y="710" width="7" height="1"/>
<rect x="686" y="710" width="7" height="1"/>
<rect x="58" y="706" width="7" height="1"/>
<rect x="686" y="706" width="7" height="1"/>
<rect x="58" y="704" width="7" height="1"/>
<rect x="686" y="704" width="7" height="1"/>
<rect x="58" y="702" width="7" height="1"/>
<rect x="686" y="702" width="7" height="1"/>
<rect x="58" y="700" width="7" height="1"/>
<rect x="686" y="700" width="7" height="1"/>
<rect x="58" y="699" width="7" height="1"/>
<rect x="686" y="699" width="7" height="1"/>
<rect x="58" y="698" width="7" height="1"/>
<rect x="686" y="698" width="7" height="1"/>
<rect x="58" y="697" width="7" height="1"/>
<rect x="686" y="697" width="7" height="1"/>
<rect x="58" y="690" width="7" height="1"/>
<rect x="686" y="690" width="7" height="1"/>
<rect x="58" y="735" width="13" height="1"/>
<rect x="680" y="735" width="13" height="1"/>
<rect x="58" y="715" width="13" height="1"/>
<rect x="680" y="715" width="13" height="1"/>
<rect x="58" y="696" width="13" height="1"/>
<rect x="680" y="696" width="13" height="1"/>
</g>
<polyline points="58.0,66.5 76.3,64.4 103.0,64.4 114.7,66.3 123.3,66.3 127.5,65.5 161.7,65.5 164.9,64.4 170.2,59.5 176.6,58.0 185.0,55.2 191.5,56.0 200.0,55.2 209.6,57.0 238.4,57.4 242.7,58.6 255.5,58.0 272.5,57.0 279.0,58.0 287.5,61.2 302.4,61.2 306.7,63.3 315.2,64.0 321.6,65.5 333.3,65.5 337.6,58.0 343.2,47.8 348.5,47.3 353.9,45.2 365.6,45.2 369.9,46.3 375.2,46.3 380.5,43.0 385.9,42.0 391.2,43.0 397.6,43.0 406.1,45.8 412.5,46.3 416.8,48.0 428.5,48.4 433.9,50.1 439.2,50.1 444.5,48.8 455.2,44.8 463.7,43.7 470.1,42.0 487.2,42.0 492.8,43.7 501.3,44.1 509.9,45.2 520.5,45.8 526.9,47.3 541.9,48.0 558.9,49.5 563.2,48.4 578.1,48.0 590.9,48.0 596.3,47.3 606.0,48.0 615.6,49.5 634.8,49.5 639.0,50.5 669.0,50.5 675.3,48.8 686.0,48.8 692.4,50.5" fill="none" stroke="#000" stroke-width="1.0" shape-rendering="crispEdges" stroke-linejoin="round"/>
<polyline points="57.0,68.2 70.0,68.0 82.7,66.5 91.3,66.5 99.8,68.2 108.3,69.3 127.5,69.3 131.8,68.2 137.0,69.3 142.5,67.6 155.3,67.2 163.8,66.3 170.2,64.6 195.8,64.0 208.6,62.5 227.7,62.0 242.7,60.8 251.2,59.5 264.0,60.1 273.6,56.3 285.3,56.3 289.6,57.4 302.4,57.4 315.2,60.1 328.0,60.6 332.3,59.5 337.6,61.2 343.2,58.6 348.5,45.2 354.9,31.3 359.2,31.3 365.2,43.0 369.9,41.4 375.2,30.7 380.1,29.2 386.9,35.2 396.5,29.6 408.3,37.3 412.5,39.2 418.9,39.2 423.2,40.5 428.5,44.8 438.1,23.4 444.5,26.6 449.4,34.1 455.2,31.3 460.5,32.4 465.9,43.0 476.5,49.9 482.9,50.1 485.0,51.2 499.2,51.6 501.3,52.7 509.9,52.7 512.0,53.3 518.4,53.3 522.7,52.2 529.1,52.2 533.3,51.2 539.7,51.2 541.9,52.2 550.4,52.2 554.7,54.4 561.1,54.4 571.7,48.4 580.3,47.8 586.7,50.1 593.1,48.4 601.6,53.3 613.4,46.7 622.0,45.8 629.4,42.4 640.0,47.3 646.5,43.0 650.8,43.5 655.0,49.0 663.6,51.2 672.1,51.2 677.5,49.9 682.8,49.9 687.0,51.2 692.4,51.6" fill="none" stroke="#0000ff" stroke-width="1.0" shape-rendering="crispEdges" stroke-linejoin="round"/>
<polyline points="57.0,194.5 59.2,192.0 62.0,192.0 64.8,190.6 66.2,199.0 67.3,185.0 68.3,191.3 69.7,193.4 71.5,187.5 73.6,194.1 75.3,185.0 76.0,192.0 78.8,190.6 79.5,196.2 80.6,192.0 82.7,195.5 84.4,193.4 85.8,194.5 87.9,192.0 89.3,195.5 90.4,200.4 91.4,187.8 92.5,195.5 93.4,190.6 94.4,198.3 95.6,191.3 98.4,191.0 101.2,189.9 105.0,190.3 110.5,187.5 112.2,191.8 117.4,190.4 124.3,190.9 129.5,190.4 132.1,192.1 138.2,191.5 145.1,190.4 149.5,190.4 153.8,191.8 158.1,191.8 161.1,189.7 164.2,192.7 169.4,191.5 172.9,192.7 176.3,191.5 179.8,194.4 183.3,197.9 184.1,201.3 185.0,194.9 190.2,192.7 194.5,194.9 204.1,193.5 211.0,189.2 217.1,188.3 219.7,190.4 222.3,195.3 223.5,199.6 224.0,180.5 224.5,197.0 227.5,196.1 231.8,192.7 236.1,193.5 238.7,191.8 240.8,196.1 244.8,191.5 251.7,190.9 257.8,194.4 263.0,193.2 266.5,191.5 269.9,193.2 278.6,193.2 282.1,191.5 295.9,191.5 300.3,193.5 306.3,192.7 315.0,190.9 318.5,190.1 321.9,193.2 326.3,194.4 332.3,192.7 341.0,191.5 349.7,191.8 360.1,190.6 372.2,190.9 379.1,189.2 382.6,189.7 387.8,193.2 392.1,190.6 397.3,190.9 400.8,187.5 406.0,192.1 408.6,191.8 413.8,187.1 415.5,188.3 417.3,192.1 419.0,188.7 424.2,191.5 432.9,190.4 439.8,190.4 445.0,189.7 446.7,191.8 455.4,191.5 462.3,192.1 463.2,190.4 466.7,193.5 475.3,191.8 491.8,190.9 493.5,189.7 495.3,190.9 500.5,190.1 504.8,191.3 509.1,191.3 512.6,190.6 521.3,190.6 525.6,189.5 534.3,189.5 535.1,190.6 538.6,189.5 552.5,189.5 557.7,188.3 560.3,189.2 563.7,190.9 569.8,190.9 572.4,192.1 575.0,190.9 578.7,190.9 585.6,191.8 590.8,190.9 596.0,191.8 599.5,190.9 602.1,192.7 607.3,190.9 615.1,190.9 622.0,188.7 625.5,190.9 628.9,189.2 632.4,189.7 635.9,191.5 641.1,189.7 644.5,188.3 648.9,189.2 653.2,190.9 660.1,190.9 662.7,189.7 667.9,192.1 674.0,190.4 680.9,188.7 685.3,190.9 689.6,192.1 692.7,191.5" fill="none" stroke="#00ff00" stroke-width="1.0" shape-rendering="crispEdges" stroke-linejoin="round"/>
<polyline points="57.0,180.5 58.5,182.9 61.3,182.4 64.1,182.2 65.5,180.1 66.2,178.4 66.9,184.3 69.0,181.5 70.8,177.3 71.5,184.3 72.9,180.8 74.3,178.4 75.0,184.3 76.7,181.5 78.1,182.9 79.5,179.8 80.9,182.6 83.0,180.8 84.1,179.4 85.8,182.2 87.9,179.4 89.3,180.8 90.4,173.1 91.4,172.4 92.1,187.1 93.2,180.8 94.6,176.3 95.6,188.2 96.7,182.2 99.8,183.6 102.6,185.0 105.0,183.6 106.1,182.3 111.3,186.3 115.7,182.8 122.6,184.0 126.9,182.3 134.7,185.2 140.0,183.5 146.9,184.9 152.9,182.3 159.0,183.1 162.1,187.1 165.1,181.9 169.4,181.4 173.7,183.1 176.3,181.4 179.8,183.1 183.3,182.3 185.0,180.5 186.7,183.1 191.9,185.2 195.4,180.9 200.6,180.9 204.1,182.8 211.0,184.0 215.3,183.5 217.9,181.4 220.5,183.1 223.1,180.5 224.8,179.7 225.3,193.2 225.9,180.5 227.5,181.4 231.8,182.3 238.7,183.5 242.2,181.7 247.4,183.1 254.3,181.9 262.1,180.5 265.6,182.8 269.1,181.4 275.1,182.8 289.0,182.3 295.9,181.4 301.1,180.9 309.8,182.3 315.0,180.5 317.6,183.1 321.9,184.0 325.4,181.1 330.6,182.3 341.0,180.9 347.9,180.5 352.3,182.3 360.1,181.4 370.5,180.5 375.7,180.9 380.9,183.1 386.1,180.5 391.3,179.3 395.6,180.2 399.9,178.5 404.3,180.9 407.7,178.5 412.1,181.1 417.3,179.7 420.7,181.9 425.9,178.5 429.4,180.9 434.6,180.9 438.9,183.1 442.4,180.2 445.0,181.1 453.7,180.5 456.3,181.7 459.7,180.5 464.1,182.3 467.5,180.5 472.7,180.5 480.5,182.3 484.9,180.9 493.5,180.5 503.9,182.3 510.9,181.7 514.3,180.5 521.3,180.5 528.2,181.4 532.5,183.5 538.6,182.3 544.7,180.5 549.0,181.7 553.3,183.5 558.5,183.1 562.9,180.5 568.9,183.1 573.5,180.5 580.4,180.9 584.7,181.7 592.5,180.9 596.0,179.3 601.2,182.3 603.8,181.9 606.4,179.3 610.7,182.3 615.1,179.7 622.0,181.4 623.7,182.3 625.1,187.5 626.9,180.5 630.7,180.9 634.1,182.3 638.5,178.5 641.9,181.9 645.4,180.5 649.7,182.3 654.1,182.8 656.7,180.9 661.0,180.9 663.6,184.0 667.9,181.9 674.0,181.4 680.9,183.5 686.1,183.5 688.7,185.4 692.7,183.1" fill="none" stroke="#0000ff" stroke-width="1.0" shape-rendering="crispEdges" stroke-linejoin="round"/>
<polyline points="57.0,163.3 59.2,163.2 60.6,162.6 62.0,163.2 63.4,162.7 64.8,163.3 66.2,164.0 66.6,168.6 67.6,167.5 68.0,163.0 69.4,161.2 70.1,159.8 71.5,161.6 72.5,160.2 73.9,160.5 75.3,162.3 76.4,160.5 77.4,158.8 78.8,160.5 80.6,162.3 81.6,159.8 83.0,160.5 84.4,160.9 85.8,160.5 87.9,159.8 90.0,159.5 90.4,164.4 91.4,164.0 92.5,159.5 93.5,163.3 94.6,166.5 95.6,161.6 97.0,163.7 98.8,162.6 100.5,165.1 105.0,165.1 107.9,164.9 111.3,161.5 114.8,162.9 120.0,164.9 124.3,164.0 130.4,162.0 135.6,162.3 140.0,164.0 146.9,164.0 152.0,162.9 156.4,161.5 159.0,162.3 162.5,160.6 166.0,162.9 170.3,162.9 174.6,161.5 179.8,161.1 185.0,162.3 192.8,161.5 194.5,163.2 198.9,162.3 203.2,162.3 206.7,165.8 210.1,172.7 212.7,174.1 215.3,169.3 217.9,162.3 222.3,160.9 224.0,156.8 226.6,163.2 230.1,162.0 233.5,162.9 235.8,161.5 238.4,164.9 243.9,164.0 250.9,163.7 259.5,162.3 264.7,161.5 269.9,164.0 273.4,163.7 276.9,162.3 289.0,162.0 295.9,160.6 306.3,160.3 311.5,161.8 315.0,162.3 317.6,160.1 332.3,159.7 347.9,159.2 351.4,158.5 355.7,161.5 360.1,161.5 363.5,159.7 375.7,160.6 380.9,164.0 386.1,160.6 391.3,159.2 394.7,157.5 401.7,156.3 403.4,158.0 405.1,162.3 407.7,159.7 409.5,161.5 412.1,169.3 414.7,172.4 417.3,165.8 419.9,163.2 427.7,162.3 436.3,162.3 438.4,164.9 439.8,169.3 441.5,163.2 445.0,162.3 462.3,162.9 466.7,161.5 475.3,161.5 478.8,163.2 486.6,163.2 490.4,161.5 494.1,163.7 497.0,162.0 500.5,162.3 503.9,164.0 507.4,163.7 510.9,165.3 514.3,163.2 522.1,162.7 528.2,163.2 530.8,166.7 536.9,166.7 539.8,168.9 542.1,165.8 549.9,165.5 553.3,170.1 555.9,172.4 559.4,170.1 562.9,165.8 566.3,164.4 569.8,167.2 572.6,165.8 578.7,165.5 584.7,164.0 590.8,164.4 602.9,165.5 606.4,167.2 611.6,167.9 615.4,169.3 619.4,167.2 623.7,167.5 626.9,170.1 628.9,165.8 631.5,164.0 635.0,166.1 639.3,170.1 642.8,168.4 648.0,168.9 652.3,167.2 660.1,167.5 663.6,167.2 668.3,171.0 672.3,167.5 677.5,167.5 681.8,169.3 686.1,169.3 689.6,167.2 692.7,169.3" fill="none" stroke="#ff0000" stroke-width="1.0" shape-rendering="crispEdges" stroke-linejoin="round"/>
<rect x="57" y="389" width="636" height="4" fill="#ffff00"/>
<defs><linearGradient id="rb" x1="0" y1="0" x2="0" y2="1">
<stop offset="0" stop-color="#a00000"/>
<stop offset="0.04" stop-color="#e00000"/>
<stop offset="0.08" stop-color="#ff0000"/>
<stop offset="0.14" stop-color="#ff1800"/>
<stop offset="0.22" stop-color="#ff8000"/>
<stop offset="0.33" stop-color="#ffff00"/>
<stop offset="0.41" stop-color="#90ff00"/>
<stop offset="0.5" stop-color="#00ff00"/>
<stop offset="0.56" stop-color="#00ff70"/>
<stop offset="0.62" stop-color="#00ffff"/>
<stop offset="0.69" stop-color="#0090ff"/>
<stop offset="0.78" stop-color="#0000ff"/>
<stop offset="0.86" stop-color="#6000d0"/>
<stop offset="0.92" stop-color="#400080"/>
<stop offset="0.97" stop-color="#100010"/>
<stop offset="1" stop-color="#000000"/>
</linearGradient></defs>
<rect x="697" y="396" width="6" height="60" fill="#000"/>
<rect x="698" y="397" width="4" height="58" fill="url(#rb)"/>
<rect x="697" y="455" width="6" height="59" fill="#000"/>
<rect x="698" y="456" width="4" height="57" fill="url(#rb)"/>
<rect x="697" y="513" width="6" height="60" fill="#000"/>
<rect x="698" y="514" width="4" height="58" fill="url(#rb)"/>
<rect x="697" y="572" width="6" height="60" fill="#000"/>
<rect x="698" y="573" width="4" height="58" fill="url(#rb)"/>
<rect x="697" y="631" width="6" height="60" fill="#000"/>
<rect x="698" y="632" width="4" height="58" fill="url(#rb)"/>
<rect x="697" y="690" width="6" height="60" fill="#000"/>
<rect x="698" y="691" width="4" height="58" fill="url(#rb)"/>
<g shape-rendering="auto" text-rendering="geometricPrecision" opacity="0.999" stroke="#000" stroke-width="0.26" paint-order="stroke">
<text x="375.3" y="9.8" font-size="10.2" text-anchor="middle" textLength="52" lengthAdjust="spacingAndGlyphs">P5 (TH−A)</text>
<text x="55" y="18.7" font-size="7.6" text-anchor="end" textLength="18.7" lengthAdjust="spacingAndGlyphs">1000</text>
<text x="55" y="28.7" font-size="7.6" text-anchor="end" textLength="14.7" lengthAdjust="spacingAndGlyphs">800</text>
<text x="55" y="40.7" font-size="7.6" text-anchor="end" textLength="14.7" lengthAdjust="spacingAndGlyphs">600</text>
<text x="55" y="52.3" font-size="7.6" text-anchor="end" textLength="14.7" lengthAdjust="spacingAndGlyphs">400</text>
<text x="55" y="63.7" font-size="7.6" text-anchor="end" textLength="14.7" lengthAdjust="spacingAndGlyphs">200</text>
<text x="55" y="72.7" font-size="7.6" text-anchor="end" textLength="4.9" lengthAdjust="spacingAndGlyphs">0</text>
<text x="28.0" y="43.8" font-size="7.6" text-anchor="middle" textLength="34" lengthAdjust="spacingAndGlyphs" transform="rotate(-90 28.0 43.8)">AE Index</text>
<text x="45.1" y="81.9" font-size="7.6" text-anchor="middle" textLength="12.5" lengthAdjust="spacingAndGlyphs" transform="rotate(-90 45.1 81.9)">ROI</text>
<text x="55" y="96.0" font-size="7.6" text-anchor="end" textLength="11.2" lengthAdjust="spacingAndGlyphs">1.0</text>
<text x="55" y="105.4" font-size="7.6" text-anchor="end" textLength="12.1" lengthAdjust="spacingAndGlyphs">0.8</text>
<text x="55" y="116.7" font-size="7.6" text-anchor="end" textLength="12.1" lengthAdjust="spacingAndGlyphs">0.6</text>
<text x="55" y="128.7" font-size="7.6" text-anchor="end" textLength="12.1" lengthAdjust="spacingAndGlyphs">0.4</text>
<text x="55" y="140.3" font-size="7.6" text-anchor="end" textLength="12.1" lengthAdjust="spacingAndGlyphs">0.2</text>
<text x="55" y="149.0" font-size="7.6" text-anchor="end" textLength="12.1" lengthAdjust="spacingAndGlyphs">0.0</text>
<text x="36.0" y="120" font-size="7.6" text-anchor="middle" textLength="34.5" lengthAdjust="spacingAndGlyphs" transform="rotate(-90 36.0 120)">Keogram</text>
<text x="55" y="153.4" font-size="7.6" text-anchor="end" textLength="9.8" lengthAdjust="spacingAndGlyphs">50</text>
<text x="55" y="160.0" font-size="7.6" text-anchor="end" textLength="9.8" lengthAdjust="spacingAndGlyphs">40</text>
<text x="55" y="168.7" font-size="7.6" text-anchor="end" textLength="9.8" lengthAdjust="spacingAndGlyphs">30</text>
<text x="55" y="177.1" font-size="7.6" text-anchor="end" textLength="9.8" lengthAdjust="spacingAndGlyphs">20</text>
<text x="55" y="185.7" font-size="7.6" text-anchor="end" textLength="8.9" lengthAdjust="spacingAndGlyphs">10</text>
<text x="55" y="194.3" font-size="7.6" text-anchor="end" textLength="4.9" lengthAdjust="spacingAndGlyphs">0</text>
<text x="55" y="203.0" font-size="7.6" text-anchor="end" textLength="15.9" lengthAdjust="spacingAndGlyphs">−10</text>
<text x="55" y="207.7" font-size="7.6" text-anchor="end" textLength="16.8" lengthAdjust="spacingAndGlyphs">−20</text>
<text x="17.7" y="179.7" font-size="7.6" text-anchor="middle" textLength="17" lengthAdjust="spacingAndGlyphs" transform="rotate(-90 17.7 179.7)">B FIT</text>
<text x="24.4" y="178.5" font-size="7.6" text-anchor="middle" textLength="14.5" lengthAdjust="spacingAndGlyphs" transform="rotate(-90 24.4 178.5)">GSE</text>
<text x="32.300000000000004" y="178.5" font-size="7.6" text-anchor="middle" textLength="15" lengthAdjust="spacingAndGlyphs" transform="rotate(-90 32.300000000000004 178.5)">[nT]</text>
<text x="52.0" y="214.0" font-size="7.6" text-anchor="end" textLength="9.2" lengthAdjust="spacingAndGlyphs">10</text>
<text x="52.2" y="210.7" font-size="5">6</text>
<text x="52.0" y="226.7" font-size="7.6" text-anchor="end" textLength="9.2" lengthAdjust="spacingAndGlyphs">10</text>
<text x="52.2" y="223.4" font-size="5">4</text>
<text x="52.0" y="238.7" font-size="7.6" text-anchor="end" textLength="9.2" lengthAdjust="spacingAndGlyphs">10</text>
<text x="52.2" y="235.4" font-size="5">2</text>
<text x="52.0" y="251.0" font-size="7.6" text-anchor="end" textLength="9.2" lengthAdjust="spacingAndGlyphs">10</text>
<text x="52.2" y="247.7" font-size="5">0</text>
<text x="49.0" y="263.7" font-size="7.6" text-anchor="end" textLength="9.2" lengthAdjust="spacingAndGlyphs">10</text>
<text x="49.2" y="260.4" font-size="5">−2</text>
<text x="16.7" y="237.7" font-size="7.6" text-anchor="middle" textLength="6.5" lengthAdjust="spacingAndGlyphs" transform="rotate(-90 16.7 237.7)">Ni</text>
<text x="25.0" y="237.5" font-size="7.6" text-anchor="middle" textLength="15" lengthAdjust="spacingAndGlyphs" transform="rotate(-90 25.0 237.5)">elec</text>
<text x="31.7" y="237.8" font-size="7.6" text-anchor="middle" textLength="25.5" lengthAdjust="spacingAndGlyphs" transform="rotate(-90 31.7 237.8)">[1/cc]</text>
<text x="55" y="284.0" font-size="7.6" text-anchor="end" textLength="14.7" lengthAdjust="spacingAndGlyphs">200</text>
<text x="55" y="299.4" font-size="7.6" text-anchor="end" textLength="4.9" lengthAdjust="spacingAndGlyphs">0</text>
<text x="55" y="314.7" font-size="7.6" text-anchor="end" textLength="21.7" lengthAdjust="spacingAndGlyphs">−200</text>
<text x="18.4" y="297.7" font-size="7.6" text-anchor="middle" textLength="6.5" lengthAdjust="spacingAndGlyphs" transform="rotate(-90 18.4 297.7)">Vi</text>
<text x="27.099999999999998" y="296.5" font-size="7.6" text-anchor="middle" textLength="26.5" lengthAdjust="spacingAndGlyphs" transform="rotate(-90 27.099999999999998 296.5)">[km/s]</text>
<text x="55" y="340.4" font-size="7.6" text-anchor="end" textLength="25.9" lengthAdjust="spacingAndGlyphs">1000.0</text>
<text x="55" y="352.3" font-size="7.6" text-anchor="end" textLength="21.0" lengthAdjust="spacingAndGlyphs">100.0</text>
<text x="55" y="363.7" font-size="7.6" text-anchor="end" textLength="16.1" lengthAdjust="spacingAndGlyphs">10.0</text>
<text x="55" y="375.7" font-size="7.6" text-anchor="end" textLength="11.2" lengthAdjust="spacingAndGlyphs">1.0</text>
<text x="55" y="384.7" font-size="7.6" text-anchor="end" textLength="11.2" lengthAdjust="spacingAndGlyphs">0.1</text>
<text x="6.0" y="356" font-size="7.6" text-anchor="middle" textLength="5.5" lengthAdjust="spacingAndGlyphs" transform="rotate(-90 6.0 356)">Ti</text>
<text x="14.399999999999999" y="355" font-size="7.6" text-anchor="middle" textLength="15" lengthAdjust="spacingAndGlyphs" transform="rotate(-90 14.399999999999999 355)">elec</text>
<text x="21.4" y="355.5" font-size="7.6" text-anchor="middle" textLength="16" lengthAdjust="spacingAndGlyphs" transform="rotate(-90 21.4 355.5)">[eV]</text>
<text x="52.0" y="416.7" font-size="7.6" text-anchor="end" textLength="9.2" lengthAdjust="spacingAndGlyphs">10</text>
<text x="52.2" y="413.4" font-size="5">6</text>
<text x="52.0" y="446.0" font-size="7.6" text-anchor="end" textLength="9.2" lengthAdjust="spacingAndGlyphs">10</text>
<text x="52.2" y="442.7" font-size="5">5</text>
<text x="20.7" y="426" font-size="7.6" text-anchor="middle" textLength="13.5" lengthAdjust="spacingAndGlyphs" transform="rotate(-90 20.7 426)">SST</text>
<text x="28.7" y="425.7" font-size="7.6" text-anchor="middle" textLength="14" lengthAdjust="spacingAndGlyphs" transform="rotate(-90 28.7 425.7)">ions</text>
<text x="35.900000000000006" y="425.7" font-size="7.6" text-anchor="middle" textLength="16" lengthAdjust="spacingAndGlyphs" transform="rotate(-90 35.900000000000006 425.7)">[eV]</text>
<text x="55" y="465.0" font-size="7.6" text-anchor="end" textLength="23.6" lengthAdjust="spacingAndGlyphs">10000</text>
<text x="55" y="481.0" font-size="7.6" text-anchor="end" textLength="18.7" lengthAdjust="spacingAndGlyphs">1000</text>
<text x="55" y="496.7" font-size="7.6" text-anchor="end" textLength="13.8" lengthAdjust="spacingAndGlyphs">100</text>
<text x="55" y="513.0" font-size="7.6" text-anchor="end" textLength="8.9" lengthAdjust="spacingAndGlyphs">10</text>
<text x="8.7" y="484" font-size="7.6" text-anchor="middle" textLength="14" lengthAdjust="spacingAndGlyphs" transform="rotate(-90 8.7 484)">ESA</text>
<text x="16.7" y="484.5" font-size="7.6" text-anchor="middle" textLength="14" lengthAdjust="spacingAndGlyphs" transform="rotate(-90 16.7 484.5)">ions</text>
<text x="24.0" y="484.7" font-size="7.6" text-anchor="middle" textLength="16" lengthAdjust="spacingAndGlyphs" transform="rotate(-90 24.0 484.7)">[eV]</text>
<text x="52.0" y="554.0" font-size="7.6" text-anchor="end" textLength="9.2" lengthAdjust="spacingAndGlyphs">10</text>
<text x="52.2" y="550.7" font-size="5">5</text>
<text x="20.7" y="544" font-size="7.6" text-anchor="middle" textLength="13.5" lengthAdjust="spacingAndGlyphs" transform="rotate(-90 20.7 544)">SST</text>
<text x="28.7" y="543.7" font-size="7.6" text-anchor="middle" textLength="15" lengthAdjust="spacingAndGlyphs" transform="rotate(-90 28.7 543.7)">elec</text>
<text x="35.900000000000006" y="543.7" font-size="7.6" text-anchor="middle" textLength="16" lengthAdjust="spacingAndGlyphs" transform="rotate(-90 35.900000000000006 543.7)">[eV]</text>
<text x="55" y="583.7" font-size="7.6" text-anchor="end" textLength="23.6" lengthAdjust="spacingAndGlyphs">10000</text>
<text x="55" y="599.7" font-size="7.6" text-anchor="end" textLength="18.7" lengthAdjust="spacingAndGlyphs">1000</text>
<text x="55" y="616.0" font-size="7.6" text-anchor="end" textLength="13.8" lengthAdjust="spacingAndGlyphs">100</text>
<text x="55" y="631.7" font-size="7.6" text-anchor="end" textLength="8.9" lengthAdjust="spacingAndGlyphs">10</text>
<text x="8.7" y="602" font-size="7.6" text-anchor="middle" textLength="14" lengthAdjust="spacingAndGlyphs" transform="rotate(-90 8.7 602)">ESA</text>
<text x="16.7" y="602" font-size="7.6" text-anchor="middle" textLength="15" lengthAdjust="spacingAndGlyphs" transform="rotate(-90 16.7 602)">elec</text>
<text x="24.0" y="602" font-size="7.6" text-anchor="middle" textLength="16" lengthAdjust="spacingAndGlyphs" transform="rotate(-90 24.0 602)">[eV]</text>
<text x="55" y="640.7" font-size="7.6" text-anchor="end" textLength="18.7" lengthAdjust="spacingAndGlyphs">1000</text>
<text x="55" y="660.0" font-size="7.6" text-anchor="end" textLength="13.8" lengthAdjust="spacingAndGlyphs">100</text>
<text x="55" y="679.7" font-size="7.6" text-anchor="end" textLength="8.9" lengthAdjust="spacingAndGlyphs">10</text>
<text x="13.7" y="660.7" font-size="7.6" text-anchor="middle" textLength="14" lengthAdjust="spacingAndGlyphs" transform="rotate(-90 13.7 660.7)">FBK</text>
<text x="22.0" y="661" font-size="7.6" text-anchor="middle" textLength="23" lengthAdjust="spacingAndGlyphs" transform="rotate(-90 22.0 661)">edc12</text>
<text x="29.2" y="660.7" font-size="7.6" text-anchor="middle" textLength="16.5" lengthAdjust="spacingAndGlyphs" transform="rotate(-90 29.2 660.7)">[Hz]</text>
<text x="55" y="699.7" font-size="7.6" text-anchor="end" textLength="18.7" lengthAdjust="spacingAndGlyphs">1000</text>
<text x="55" y="719.0" font-size="7.6" text-anchor="end" textLength="13.8" lengthAdjust="spacingAndGlyphs">100</text>
<text x="55" y="739.0" font-size="7.6" text-anchor="end" textLength="8.9" lengthAdjust="spacingAndGlyphs">10</text>
<text x="13.7" y="720" font-size="7.6" text-anchor="middle" textLength="14" lengthAdjust="spacingAndGlyphs" transform="rotate(-90 13.7 720)">FBK</text>
<text x="22.0" y="720" font-size="7.6" text-anchor="middle" textLength="19" lengthAdjust="spacingAndGlyphs" transform="rotate(-90 22.0 720)">scm1</text>
<text x="29.2" y="720" font-size="7.6" text-anchor="middle" textLength="16.5" lengthAdjust="spacingAndGlyphs" transform="rotate(-90 29.2 720)">[Hz]</text>
<text x="701" y="28.7" font-size="7.6" textLength="35" lengthAdjust="spacingAndGlyphs" fill="#0000ff" stroke="#0000ff">Kyoto AE</text>
<text x="700.5" y="58.2" font-size="7.6" textLength="40.5" lengthAdjust="spacingAndGlyphs">Themis AE</text>
<text x="701" y="159.0" font-size="7.6" textLength="9" lengthAdjust="spacingAndGlyphs" fill="#ff0000" stroke="#ff0000">Bz</text>
<text x="701" y="178.7" font-size="7.6" textLength="9" lengthAdjust="spacingAndGlyphs" fill="#00ff00" stroke="#00ff00">By</text>
<text x="701" y="198.4" font-size="7.6" textLength="9" lengthAdjust="spacingAndGlyphs" fill="#0000ff" stroke="#0000ff">Bx</text>
<text x="701" y="218.0" font-size="7.6" textLength="10" lengthAdjust="spacingAndGlyphs" fill="#ff0000" stroke="#ff0000">Ne</text>
<text x="701" y="237.7" font-size="7.6" textLength="7.5" lengthAdjust="spacingAndGlyphs">Ni</text>
<text x="701" y="257.1" font-size="7.6" textLength="18.5" lengthAdjust="spacingAndGlyphs" fill="#0000ff" stroke="#0000ff">Npot</text>
<text x="700.5" y="277.0" font-size="7.6" textLength="10.5" lengthAdjust="spacingAndGlyphs" fill="#ff0000" stroke="#ff0000">Viz</text>
<text x="700.5" y="296.0" font-size="7.6" textLength="10.5" lengthAdjust="spacingAndGlyphs" fill="#00ff00" stroke="#00ff00">Viy</text>
<text x="700.5" y="315.7" font-size="7.6" textLength="10.5" lengthAdjust="spacingAndGlyphs" fill="#0000ff" stroke="#0000ff">Vix</text>
<text x="700.5" y="330.7" font-size="7.6" textLength="12.5" lengthAdjust="spacingAndGlyphs">Te‖</text>
<text x="700.5" y="350.0" font-size="7.6" textLength="14.5" lengthAdjust="spacingAndGlyphs" fill="#ff0000" stroke="#ff0000">Te⊥</text>
<text x="700.5" y="359.4" font-size="7.6" textLength="9.5" lengthAdjust="spacingAndGlyphs" fill="#00ff00" stroke="#00ff00">Ti‖</text>
<text x="700.5" y="379.4" font-size="7.6" textLength="12.5" lengthAdjust="spacingAndGlyphs" fill="#0000ff" stroke="#0000ff">Ti⊥</text>
<text x="705.7" y="412.4" font-size="7.6" textLength="9.2" lengthAdjust="spacingAndGlyphs">10</text>
<text x="715.3000000000001" y="409.1" font-size="5">6</text>
<text x="705.7" y="427.4" font-size="7.6" textLength="9.2" lengthAdjust="spacingAndGlyphs">10</text>
<text x="715.3000000000001" y="424.1" font-size="5">4</text>
<text x="705.7" y="442.3" font-size="7.6" textLength="9.2" lengthAdjust="spacingAndGlyphs">10</text>
<text x="715.3000000000001" y="439.0" font-size="5">2</text>
<text x="705.7" y="454.6" font-size="7.6" textLength="9.2" lengthAdjust="spacingAndGlyphs">10</text>
<text x="715.3000000000001" y="451.3" font-size="5">0</text>
<text x="705.7" y="467.1" font-size="7.6" textLength="9.2" lengthAdjust="spacingAndGlyphs">10</text>
<text x="715.3000000000001" y="463.8" font-size="5">8</text>
<text x="705.7" y="476.7" font-size="7.6" textLength="9.2" lengthAdjust="spacingAndGlyphs">10</text>
<text x="715.3000000000001" y="473.4" font-size="5">7</text>
<text x="705.7" y="486.8" font-size="7.6" textLength="9.2" lengthAdjust="spacingAndGlyphs">10</text>
<text x="715.3000000000001" y="483.5" font-size="5">6</text>
<text x="705.7" y="496.4" font-size="7.6" textLength="9.2" lengthAdjust="spacingAndGlyphs">10</text>
<text x="715.3000000000001" y="493.1" font-size="5">5</text>
<text x="705.7" y="505.5" font-size="7.6" textLength="9.2" lengthAdjust="spacingAndGlyphs">10</text>
<text x="715.3000000000001" y="502.2" font-size="5">4</text>
<text x="705.7" y="513.5" font-size="7.6" textLength="9.2" lengthAdjust="spacingAndGlyphs">10</text>
<text x="715.3000000000001" y="510.2" font-size="5">3</text>
<text x="705.7" y="529.7" font-size="7.6" textLength="9.2" lengthAdjust="spacingAndGlyphs">10</text>
<text x="715.3000000000001" y="526.4" font-size="5">6</text>
<text x="705.7" y="544.7" font-size="7.6" textLength="9.2" lengthAdjust="spacingAndGlyphs">10</text>
<text x="715.3000000000001" y="541.4" font-size="5">4</text>
<text x="705.7" y="560.2" font-size="7.6" textLength="9.2" lengthAdjust="spacingAndGlyphs">10</text>
<text x="715.3000000000001" y="556.9" font-size="5">2</text>
<text x="705.7" y="573.0" font-size="7.6" textLength="9.2" lengthAdjust="spacingAndGlyphs">10</text>
<text x="715.3000000000001" y="569.7" font-size="5">0</text>
<text x="705.7" y="586.6" font-size="7.6" textLength="9.2" lengthAdjust="spacingAndGlyphs">10</text>
<text x="715.3000000000001" y="583.3" font-size="5">8</text>
<text x="705.7" y="598.3" font-size="7.6" textLength="9.2" lengthAdjust="spacingAndGlyphs">10</text>
<text x="715.3000000000001" y="595.0" font-size="5">7</text>
<text x="705.7" y="610.2" font-size="7.6" textLength="9.2" lengthAdjust="spacingAndGlyphs">10</text>
<text x="715.3000000000001" y="606.9" font-size="5">6</text>
<text x="705.7" y="622.0" font-size="7.6" textLength="9.2" lengthAdjust="spacingAndGlyphs">10</text>
<text x="715.3000000000001" y="618.7" font-size="5">5</text>
<text x="705.7" y="630.8" font-size="7.6" textLength="9.2" lengthAdjust="spacingAndGlyphs">10</text>
<text x="715.3000000000001" y="627.5" font-size="5">4</text>
<text x="705.5" y="641.0" font-size="7.6" textLength="16.5" lengthAdjust="spacingAndGlyphs">1.00</text>
<text x="705.5" y="661.9" font-size="7.6" textLength="16.5" lengthAdjust="spacingAndGlyphs">0.10</text>
<text x="705.5" y="683.5" font-size="7.6" textLength="16.5" lengthAdjust="spacingAndGlyphs">0.01</text>
<text x="705.5" y="698.0" font-size="7.6" textLength="21.5" lengthAdjust="spacingAndGlyphs">1.000</text>
<text x="705.5" y="714.7" font-size="7.6" textLength="21.5" lengthAdjust="spacingAndGlyphs">0.100</text>
<text x="705.5" y="730.9" font-size="7.6" textLength="21.5" lengthAdjust="spacingAndGlyphs">0.010</text>
<text x="705.5" y="748.5" font-size="7.6" textLength="21.5" lengthAdjust="spacingAndGlyphs">0.001</text>
<text x="726.6" y="426" font-size="7.6" text-anchor="middle" textLength="40" lengthAdjust="spacingAndGlyphs" transform="rotate(-90 726.6 426)">Eflux, EFU</text>
<text x="726.6" y="484.5" font-size="7.6" text-anchor="middle" textLength="39" lengthAdjust="spacingAndGlyphs" transform="rotate(-90 726.6 484.5)">Eflux, EFU</text>
<text x="726.6" y="543" font-size="7.6" text-anchor="middle" textLength="39.5" lengthAdjust="spacingAndGlyphs" transform="rotate(-90 726.6 543)">Eflux, EFU</text>
<text x="726.6" y="602.3" font-size="7.6" text-anchor="middle" textLength="39.5" lengthAdjust="spacingAndGlyphs" transform="rotate(-90 726.6 602.3)">Eflux, EFU</text>
<text x="731.4000000000001" y="660.8" font-size="7.6" text-anchor="middle" textLength="41.5" lengthAdjust="spacingAndGlyphs" transform="rotate(-90 731.4000000000001 660.8)">&lt;|mV/m|&gt;</text>
<text x="735.5" y="719.3" font-size="7.6" text-anchor="middle" textLength="24.5" lengthAdjust="spacingAndGlyphs" transform="rotate(-90 735.5 719.3)">&lt;|nT|&gt;</text>
<text x="5" y="759.7" font-size="7.6" textLength="27.5" lengthAdjust="spacingAndGlyphs">X−GSE</text>
<text x="5" y="767.0" font-size="7.6" textLength="27.5" lengthAdjust="spacingAndGlyphs">Y−GSE</text>
<text x="5" y="774.3" font-size="7.6" textLength="27.5" lengthAdjust="spacingAndGlyphs">Z−GSE</text>
<text x="5" y="781.7" font-size="7.6" textLength="23" lengthAdjust="spacingAndGlyphs">hhmm</text>
<text x="5" y="789.0" font-size="7.6" textLength="53" lengthAdjust="spacingAndGlyphs">2007 May 26</text>
<text x="58.6" y="759.7" font-size="7.6" text-anchor="middle" textLength="12.1" lengthAdjust="spacingAndGlyphs">4.4</text>
<text x="164.4" y="759.7" font-size="7.6" text-anchor="middle" textLength="12.1" lengthAdjust="spacingAndGlyphs">4.2</text>
<text x="270.2" y="759.7" font-size="7.6" text-anchor="middle" textLength="12.1" lengthAdjust="spacingAndGlyphs">3.9</text>
<text x="376.0" y="759.7" font-size="7.6" text-anchor="middle" textLength="12.1" lengthAdjust="spacingAndGlyphs">3.7</text>
<text x="481.8" y="759.7" font-size="7.6" text-anchor="middle" textLength="12.1" lengthAdjust="spacingAndGlyphs">3.5</text>
<text x="587.6" y="759.7" font-size="7.6" text-anchor="middle" textLength="12.1" lengthAdjust="spacingAndGlyphs">3.2</text>
<text x="693.4" y="759.7" font-size="7.6" text-anchor="middle" textLength="12.1" lengthAdjust="spacingAndGlyphs">2.9</text>
<text x="58.6" y="767.0" font-size="7.6" text-anchor="middle" textLength="15.2" lengthAdjust="spacingAndGlyphs">11.3</text>
<text x="164.4" y="767.0" font-size="7.6" text-anchor="middle" textLength="15.2" lengthAdjust="spacingAndGlyphs">11.2</text>
<text x="270.2" y="767.0" font-size="7.6" text-anchor="middle" textLength="15.2" lengthAdjust="spacingAndGlyphs">11.0</text>
<text x="376.0" y="767.0" font-size="7.6" text-anchor="middle" textLength="16.1" lengthAdjust="spacingAndGlyphs">10.9</text>
<text x="481.8" y="767.0" font-size="7.6" text-anchor="middle" textLength="16.1" lengthAdjust="spacingAndGlyphs">10.7</text>
<text x="587.6" y="767.0" font-size="7.6" text-anchor="middle" textLength="16.1" lengthAdjust="spacingAndGlyphs">10.5</text>
<text x="693.4" y="767.0" font-size="7.6" text-anchor="middle" textLength="16.1" lengthAdjust="spacingAndGlyphs">10.3</text>
<text x="58.6" y="774.3" font-size="7.6" text-anchor="middle" textLength="18.2" lengthAdjust="spacingAndGlyphs">−3.1</text>
<text x="164.4" y="774.3" font-size="7.6" text-anchor="middle" textLength="18.2" lengthAdjust="spacingAndGlyphs">−3.1</text>
<text x="270.2" y="774.3" font-size="7.6" text-anchor="middle" textLength="19.1" lengthAdjust="spacingAndGlyphs">−3.0</text>
<text x="376.0" y="774.3" font-size="7.6" text-anchor="middle" textLength="19.1" lengthAdjust="spacingAndGlyphs">−2.9</text>
<text x="481.8" y="774.3" font-size="7.6" text-anchor="middle" textLength="19.1" lengthAdjust="spacingAndGlyphs">−2.9</text>
<text x="587.6" y="774.3" font-size="7.6" text-anchor="middle" textLength="19.1" lengthAdjust="spacingAndGlyphs">−2.8</text>
<text x="693.4" y="774.3" font-size="7.6" text-anchor="middle" textLength="19.1" lengthAdjust="spacingAndGlyphs">−2.7</text>
<text x="58.6" y="781.7" font-size="7.6" text-anchor="middle" textLength="19.6" lengthAdjust="spacingAndGlyphs">0800</text>
<text x="164.4" y="781.7" font-size="7.6" text-anchor="middle" textLength="19.6" lengthAdjust="spacingAndGlyphs">0820</text>
<text x="270.2" y="781.7" font-size="7.6" text-anchor="middle" textLength="19.6" lengthAdjust="spacingAndGlyphs">0840</text>
<text x="376.0" y="781.7" font-size="7.6" text-anchor="middle" textLength="19.6" lengthAdjust="spacingAndGlyphs">0900</text>
<text x="481.8" y="781.7" font-size="7.6" text-anchor="middle" textLength="19.6" lengthAdjust="spacingAndGlyphs">0920</text>
<text x="587.6" y="781.7" font-size="7.6" text-anchor="middle" textLength="19.6" lengthAdjust="spacingAndGlyphs">0940</text>
<text x="693.4" y="781.7" font-size="7.6" text-anchor="middle" textLength="18.7" lengthAdjust="spacingAndGlyphs">1000</text>
</g>
</svg></body></html>
